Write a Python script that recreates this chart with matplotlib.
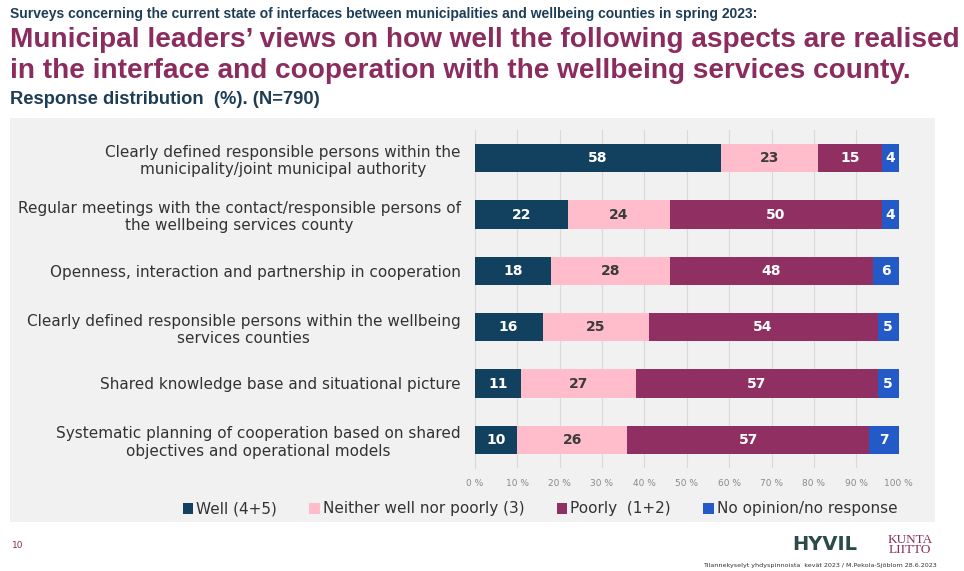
import numpy as np
import matplotlib
matplotlib.use("Agg")
import matplotlib.pyplot as plt

categories = [
    "Clearly defined responsible persons within the\nmunicipality/joint municipal authority",
    "Regular meetings with the contact/responsible persons of\nthe wellbeing services county",
    "Openness, interaction and partnership in cooperation",
    "Clearly defined responsible persons within the wellbeing\nservices counties",
    "Shared knowledge base and situational picture",
    "Systematic planning of cooperation based on shared\nobjectives and operational models",
]
well = [58, 22, 18, 16, 11, 10]
neither = [23, 24, 28, 25, 27, 26]
poorly = [15, 50, 48, 54, 57, 57]
no_opinion = [4, 4, 6, 5, 5, 7]

series_names = ["Well (4+5)", "Neither well nor poorly (3)", "Poorly  (1+2)", "No opinion/no response"]
colors = ["#12405f", "#ffbdcb", "#8f2f62", "#2459c8"]
text_colors = ["white", "#3b3b3b", "white", "white"]
xticks = np.arange(0, 101, 10)

head_font = "Liberation Sans"

fig = plt.figure(figsize=(9.64, 5.71), dpi=100)
W, H = 964, 571
renderer = fig.canvas.get_renderer()


def fit_width(txt, width_px):
    # shrink/grow a heading so it spans the given pixel width
    w = txt.get_window_extent(renderer=renderer).width
    txt.set_fontsize(txt.get_fontsize() * width_px / w)


# grey panel behind the chart
panel = fig.add_axes([10 / W, 1 - 522 / H, 925 / W, 404 / H])
panel.set_facecolor("#f1f1f1")
panel.set_xticks([])
panel.set_yticks([])
for s in panel.spines.values():
    s.set_visible(False)
panel.set_zorder(0)

ax = fig.add_axes([474.7 / W, 1 - 468 / H, 424 / W, 338 / H])
ax.set_zorder(1)
ax.patch.set_alpha(0)

y = np.arange(len(categories))
data = [well, neither, poorly, no_opinion]
left = np.zeros(len(categories))
for vals, name, col, tcol in zip(data, series_names, colors, text_colors):
    vals = np.array(vals, dtype=float)
    bars = ax.barh(y, vals, left=left, height=0.5, color=col, label=name, zorder=3)
    for rect, v in zip(bars, vals):
        ax.text(rect.get_x() + rect.get_width() / 2, rect.get_y() + rect.get_height() / 2,
                f"{v:.0f}", ha="center", va="center", color=tcol,
                fontsize=10, fontweight="bold", zorder=4)
    left += vals

ax.set_xlim(0, 100)
ax.set_ylim(len(categories) - 0.5, -0.5)
ax.set_xticks(xticks)
ax.set_xticklabels([f"{t} %" for t in xticks], fontsize=6.5, color="#8a8a8a")
ax.tick_params(axis="x", length=0, pad=8)
ax.set_yticks(y)
ax.set_yticklabels(categories, fontsize=11, color="#333333")
for lbl in ax.get_yticklabels():
    lbl.set_multialignment("center")
ax.tick_params(axis="y", length=0, pad=10)
ax.grid(axis="x", color="#d9d9d9", linewidth=0.8, zorder=0)
for s in ["top", "right", "bottom"]:
    ax.spines[s].set_visible(False)
ax.spines["left"].set_color("#d9d9d9")

fig.legend(loc="center", bbox_to_anchor=(540 / W, 1 - 509 / H), ncol=4, frameon=False,
           fontsize=11, handlelength=0.7, handleheight=0.7, columnspacing=2.1,
           handletextpad=0.2, labelcolor="#333333")

# headings
t0 = fig.text(10 / W, 1 - 14 / H, "Surveys concerning the current state of interfaces between municipalities and wellbeing counties in spring 2023:",
              fontsize=9, fontweight="bold", color="#1d3d57", family=head_font, va="center")
fit_width(t0, 747)
t1 = fig.text(10 / W, 1 - 40 / H, "Municipal leaders\u2019 views on how well the following aspects are realised",
              fontsize=20, fontweight="bold", color="#8b2c5f", family=head_font, va="center")
fit_width(t1, 946)
t2 = fig.text(10 / W, 1 - 71 / H, "in the interface and cooperation with the wellbeing services county.",
              fontsize=t1.get_fontsize(), fontweight="bold", color="#8b2c5f", family=head_font, va="center")
t3 = fig.text(10 / W, 1 - 99 / H, "Response distribution  (%). (N=790)",
              fontsize=12, fontweight="bold", color="#1d3d57", family=head_font, va="center")
fit_width(t3, 308)

# footer
fig.text(12 / W, 1 - 545 / H, "10", fontsize=6.5, color="#8b2c5f", va="center")
fig.text(825 / W, 1 - 545 / H, "HYVIL", fontsize=14, fontweight="bold", color="#2b4a48",
         ha="center", va="center")
fig.text(910 / W, 1 - 545 / H, "KUNTA\nLIITTO", fontsize=9.5, color="#8b2c5f", family="Liberation Serif",
         ha="center", va="center", linespacing=0.75)
fig.text(937 / W, 1 - 566 / H, "Tilannekyselyt yhdyspinnoista  kevät 2023 / M.Pekola-Sjöblom 28.6.2023",
         fontsize=4.6, color="#333333", ha="right", va="center")

fig.savefig("out.png", dpi=100)
